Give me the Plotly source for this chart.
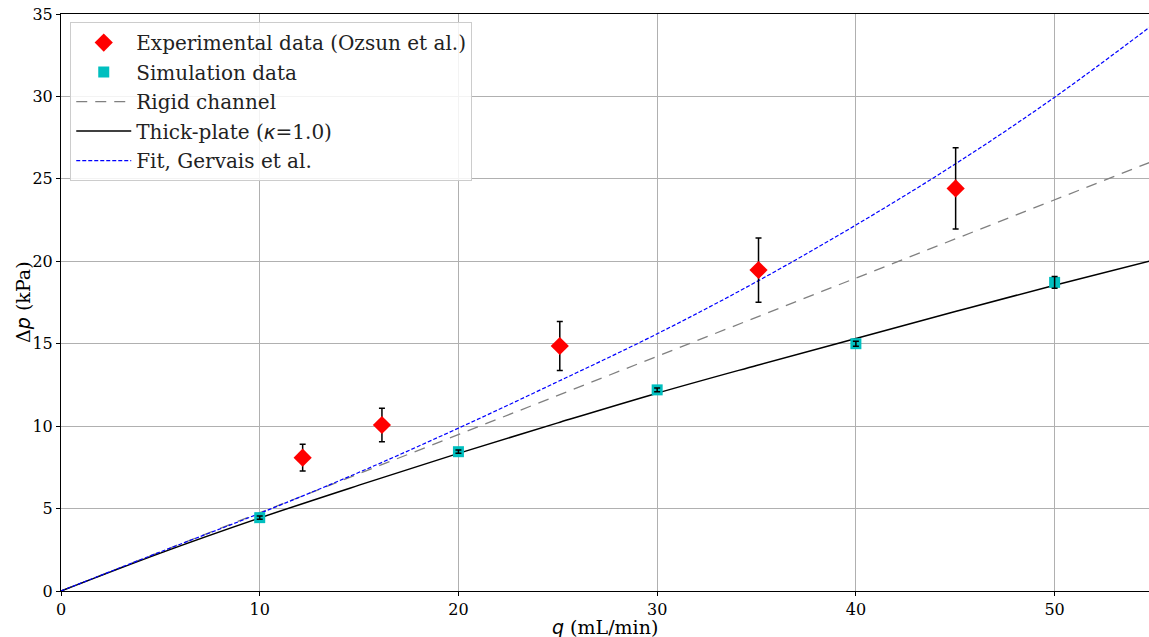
import plotly.graph_objects as go

# Experimental data (Ozsun et al.)
exp_q = [12.16, 16.15, 25.1, 35.1, 45.02]
exp_dp = [8.09, 10.07, 14.86, 19.47, 24.42]
exp_err = [0.81, 1.01, 1.49, 1.95, 2.46]

# Simulation data
sim_q = [10, 20, 30, 40, 50]
sim_dp = [4.45, 8.45, 12.2, 15.0, 18.72]
sim_err = [0.1, 0.1, 0.12, 0.15, 0.35]

# Curves
curve_q = [0, 5, 10, 15, 20, 25, 30, 35, 40, 45, 50, 55]
rigid_dp = [0, 2.37, 4.74, 7.11, 9.48, 11.85, 14.22, 16.59, 18.96, 21.33, 23.72, 26.1]
thick_dp = [0, 2.3, 4.43, 6.42, 8.35, 10.2, 12.0, 13.68, 15.32, 16.95, 18.55, 20.08]
fit_dp = [0, 2.37, 4.71, 7.2, 9.88, 12.7, 15.6, 18.76, 22.2, 25.9, 29.95, 34.4]

x_ticks = [0, 10, 20, 30, 40, 50]
y_ticks = [0, 5, 10, 15, 20, 25, 30, 35]

SERIF = "'DejaVu Serif', serif"
MATH = "font-family:'DejaVu Sans',sans-serif;font-style:italic"
X_TITLE = f"<span style=\"{MATH}\">q</span> (mL/min)"
Y_TITLE = f"Δ<span style=\"{MATH}\">p</span> (kPa)"

fig = go.Figure()

fig.add_trace(go.Scatter(
    x=curve_q, y=rigid_dp, mode="lines", name="Rigid channel",
    legendgroup="c", legendrank=3,
    line=dict(color="gray", width=1.3, dash="11px,8px"),
))
fig.add_trace(go.Scatter(
    x=curve_q, y=thick_dp, mode="lines",
    name=f"Thick-plate (<span style=\"{MATH}\">κ</span>=1.0)",
    legendgroup="d", legendrank=4,
    line=dict(color="black", width=1.5, shape="spline"),
))
fig.add_trace(go.Scatter(
    x=curve_q, y=fit_dp, mode="lines", name="Fit, Gervais et al.",
    legendgroup="e", legendrank=5,
    line=dict(color="blue", width=1.2, dash="4px,2px", shape="spline"),
))
fig.add_trace(go.Scatter(
    x=exp_q, y=exp_dp, mode="markers",
    name="Experimental data (Ozsun et al.)",
    legendgroup="a", legendrank=1,
    marker=dict(symbol="diamond", color="red", size=14, line=dict(width=0)),
    error_y=dict(type="data", array=exp_err, visible=True, color="black",
                 thickness=1.5, width=3),
))
fig.add_trace(go.Scatter(
    x=sim_q, y=sim_dp, mode="markers",
    name="Simulation data",
    legendgroup="b", legendrank=2,
    marker=dict(symbol="square", color="#00bfbf", size=11, line=dict(width=0)),
))
# simulation error bars drawn on top of the squares
fig.add_trace(go.Scatter(
    x=sim_q, y=sim_dp, mode="markers", showlegend=False, hoverinfo="skip",
    legendgroup="b",
    marker=dict(color="rgba(0,0,0,0)", size=1),
    error_y=dict(type="data", array=sim_err, visible=True, color="black",
                 thickness=1.5, width=3),
))

fig.update_layout(
    width=1149, height=637,
    margin=dict(l=61, r=0, t=14, b=46, autoexpand=False),
    paper_bgcolor="white", plot_bgcolor="white",
    font=dict(family=SERIF, size=16, color="black"),
    showlegend=True,
    legend=dict(
        x=0.0085, y=0.986, xanchor="left", yanchor="top",
        bgcolor="rgba(255,255,255,0.85)", bordercolor="#cccccc", borderwidth=1,
        font=dict(family=SERIF, size=20, color="#222"),
        traceorder="grouped", tracegroupgap=0.5, itemwidth=55,
    ),
    xaxis=dict(
        range=[0, 54.75], tickvals=x_ticks, ticktext=[str(v) for v in x_ticks],
        showgrid=True, gridcolor="#b0b0b0", gridwidth=0.8,
        showline=True, linecolor="black", linewidth=1, mirror=True,
        ticks="outside", ticklen=4, tickcolor="black",
        zeroline=False, automargin=False,
        tickfont=dict(family=SERIF, size=16),
    ),
    yaxis=dict(
        range=[0, 35], tickvals=y_ticks, ticktext=[str(v) for v in y_ticks],
        showgrid=True, gridcolor="#b0b0b0", gridwidth=0.8,
        showline=True, linecolor="black", linewidth=1, mirror=False,
        ticks="outside", ticklen=4, tickcolor="black",
        zeroline=False, automargin=False,
        tickfont=dict(family=SERIF, size=16),
    ),
    annotations=[
        dict(text=X_TITLE, xref="paper", yref="paper", x=0.5, y=-0.062,
             xanchor="center", yanchor="middle", showarrow=False,
             font=dict(family=SERIF, size=19, color="black")),
        dict(text=Y_TITLE, xref="paper", yref="paper", x=-0.0355, y=0.5,
             xanchor="center", yanchor="middle", showarrow=False, textangle=-90,
             font=dict(family=SERIF, size=19, color="black")),
    ],
)

fig.write_html(
    "out.html",
    config={"displayModeBar": False},
    post_script="document.body.style.margin='0px';document.body.style.overflow='hidden';",
)
